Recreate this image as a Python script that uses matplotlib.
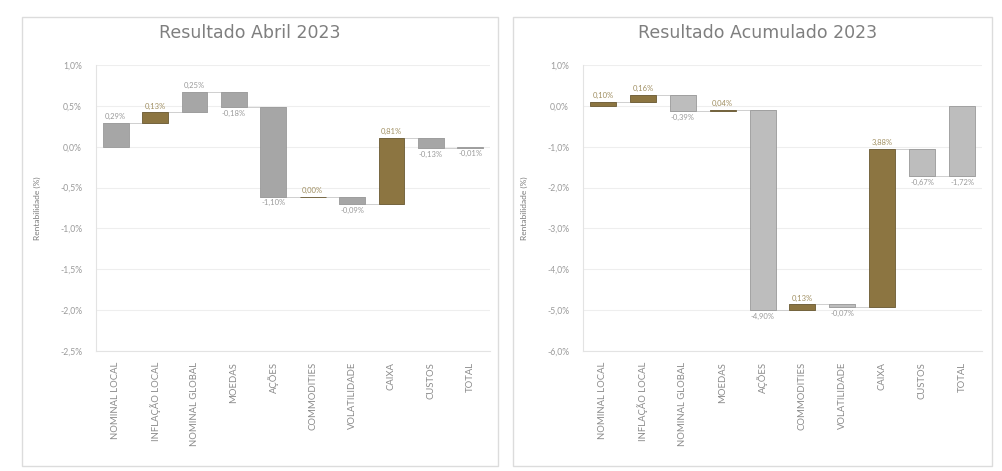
import matplotlib
matplotlib.use("Agg")
import matplotlib.pyplot as plt
from matplotlib.patches import Rectangle
from matplotlib.ticker import FuncFormatter
import numpy as np

plt.rcParams['font.family'] = ['Lato', 'DejaVu Sans']

categories = ["NOMINAL LOCAL", "INFLAÇÃO LOCAL", "NOMINAL GLOBAL", "MOEDAS", "AÇÕES",
              "COMMODITIES", "VOLATILIDADE", "CAIXA", "CUSTOS", "TOTAL"]

abril_values = [0.29, 0.13, 0.25, -0.18, -1.10, 0.00, -0.09, 0.81, -0.13]
abril_total = -0.01
acum_values = [0.10, 0.16, -0.39, 0.04, -4.90, 0.13, -0.07, 3.88, -0.67]
acum_total = -1.72

abril_yticks = [1.0, 0.5, 0.0, -0.5, -1.0, -1.5, -2.0, -2.5]
acum_yticks = [1.0, 0.0, -1.0, -2.0, -3.0, -4.0, -5.0, -6.0]

GRAY = "#a6a6a6"
GRAY2 = "#bdbdbd"
GOLD = "#8c7541"
abril_colors = ["g", "o", "g", "g", "g", "o", "g", "o", "g", "g"]
acum_colors = ["o", "o", "g", "o", "g", "o", "g", "o", "g", "g"]

W, H = 1003, 471
fig = plt.figure(figsize=(W / 100, H / 100), dpi=100)
fig.patch.set_facecolor("white")

def fx(px):
    return px / W

def fy(py):
    return 1 - py / H

# panel frames
for (x0, x1) in [(22, 498), (513, 992)]:
    fig.patches.append(Rectangle((fx(x0), fy(466)), fx(x1 - x0), (466 - 17) / H,
                                 transform=fig.transFigure, fill=False,
                                 edgecolor="#dcdcdc", lw=1.0))


def pct(v, _=None):
    return f"{v:.1f}".replace(".", ",") + "%"


def lab(v):
    return f"{v:.2f}".replace(".", ",") + "%"


def waterfall(ax, values, total, colors, gray, yticks, title, title_x):
    starts = []
    ends = []
    run = 0.0
    for v in values:
        starts.append(run)
        run += v
        ends.append(run)
    starts.append(0.0)
    ends.append(total)
    vals = list(values) + [total]
    x = np.arange(len(vals))
    width = 0.65
    for i in range(len(vals)):
        c = GOLD if colors[i] == "o" else gray
        ec = "#6b5a32" if colors[i] == "o" else "#999999"
        lo = min(starts[i], ends[i])
        h = abs(ends[i] - starts[i])
        ax.bar(x[i], h, bottom=lo, width=width, color=c, edgecolor=ec, lw=0.6, zorder=3)
        tc = "#a08f62" if colors[i] == "o" else "#9a9a9a"
        if vals[i] >= 0:
            ax.annotate(lab(vals[i]), (x[i], max(starts[i], ends[i])), xytext=(0, 2),
                        textcoords="offset points", ha="center", va="bottom",
                        fontsize=5.5, color=tc, zorder=4)
        else:
            ax.annotate(lab(vals[i]), (x[i], min(starts[i], ends[i])), xytext=(0, -2),
                        textcoords="offset points", ha="center", va="top",
                        fontsize=5.5, color=tc, zorder=4)
        if i < len(vals) - 1:
            lvl = ends[i]
            ax.plot([x[i] - width / 2, x[i + 1] + width / 2], [lvl, lvl],
                    color="#c8c8c8", lw=0.6, zorder=2)
    ax.set_xlim(-0.5, len(vals) - 0.5)
    ax.set_ylim(yticks[-1], yticks[0])
    ax.set_yticks(yticks)
    ax.yaxis.set_major_formatter(FuncFormatter(pct))
    ax.set_xticks(x)
    ax.set_xticklabels(categories, rotation=90, fontsize=6.8, color="#8a8a8a")
    ax.tick_params(axis="y", labelsize=6.2, colors="#9a9a9a", length=0, pad=10)
    ax.tick_params(axis="x", length=0, pad=8)
    ax.grid(axis="y", color="#eeeeee", lw=0.8, zorder=0)
    for s in ["top", "right"]:
        ax.spines[s].set_visible(False)
    ax.spines["left"].set_color("#e3e3e3")
    ax.spines["bottom"].set_color("#e3e3e3")
    ax.set_ylabel("Rentabilidade (%)", fontsize=6, color="#7a7a7a", labelpad=14)
    fig.text(title_x, fy(33), title, ha="center", va="center", fontsize=12.5,
             color="#7f7f7f", family="DejaVu Sans")


ax1 = fig.add_axes([fx(96), fy(351), fx(490 - 96), (351 - 65) / H])
waterfall(ax1, abril_values, abril_total, abril_colors, GRAY, abril_yticks,
          "Resultado Abril 2023", fx(250))

ax2 = fig.add_axes([fx(583), fy(351), fx(982 - 583), (351 - 65) / H])
waterfall(ax2, acum_values, acum_total, acum_colors, GRAY2, acum_yticks,
          "Resultado Acumulado 2023", fx(758))

fig.savefig("out.png", dpi=100)
